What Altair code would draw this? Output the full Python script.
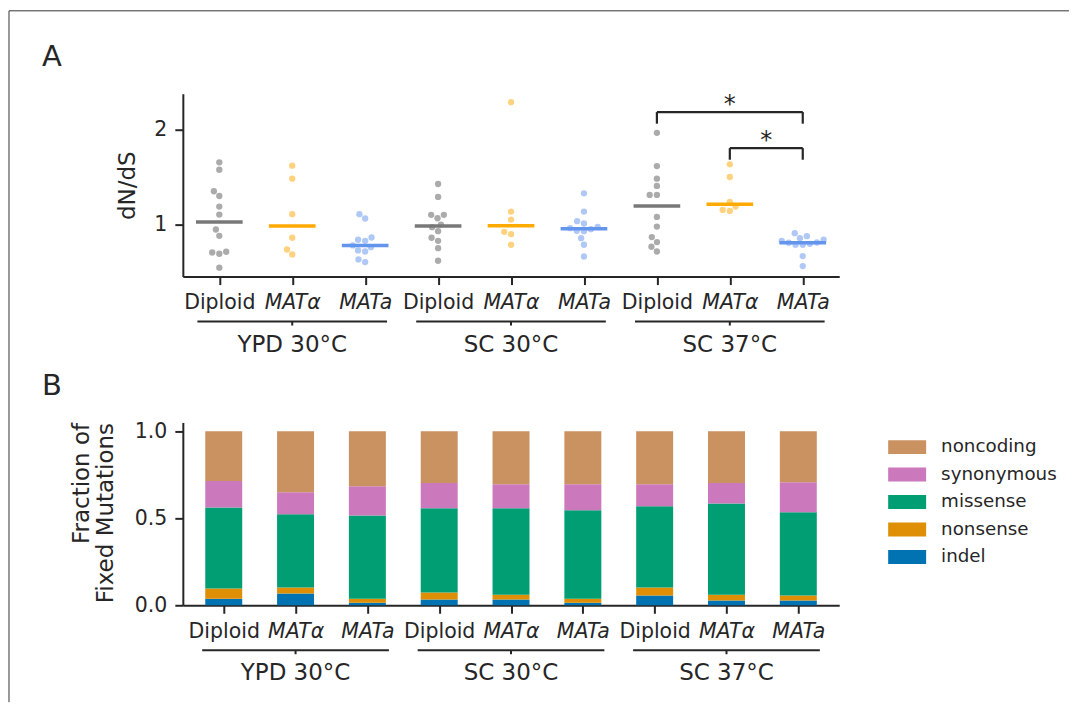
import altair as alt
import pandas as pd

FONT = "DejaVu Sans"
INK = "#262626"

# ---------------- data ----------------
strains = ["Diploid", "MATα", "MATa"]
conditions = ["YPD 30°C", "SC 30°C", "SC 37°C"]

# Panel A: dN/dS for each population, one list per (condition, strain)
dnds_ypd_diploid = [1.655, 1.577, 1.349, 1.299, 1.187, 1.102, 0.944, 0.877, 0.708, 0.700, 0.687, 0.539]
dnds_ypd_alpha = [1.620, 1.482, 1.106, 0.856, 0.732, 0.680]
dnds_ypd_a = [1.106, 1.060, 0.859, 0.835, 0.824, 0.775, 0.757, 0.722, 0.711, 0.627, 0.599]
dnds_sc30_diploid = [1.426, 1.289, 1.099, 1.099, 1.063, 0.996, 0.968, 0.926, 0.856, 0.824, 0.746, 0.613]
dnds_sc30_alpha = [2.292, 1.134, 1.049, 0.919, 0.894, 0.782]
dnds_sc30_a = [1.327, 1.134, 1.032, 1.007, 0.972, 0.958, 0.947, 0.930, 0.926, 0.852, 0.782, 0.658]
dnds_sc37_diploid = [1.968, 1.616, 1.482, 1.405, 1.310, 1.310, 1.077, 0.975, 0.863, 0.810, 0.761, 0.711]
dnds_sc37_alpha = [1.634, 1.500, 1.236, 1.187, 1.151, 1.141]
dnds_sc37_a = [0.905, 0.873, 0.852, 0.835, 0.824, 0.806, 0.803, 0.792, 0.782, 0.782, 0.662, 0.556]

dnds_groups = [
    dnds_ypd_diploid, dnds_ypd_alpha, dnds_ypd_a,
    dnds_sc30_diploid, dnds_sc30_alpha, dnds_sc30_a,
    dnds_sc37_diploid, dnds_sc37_alpha, dnds_sc37_a,
]

strain_point_colors = ["#ABABAB", "#FFD27F", "#B0C8F6"]
strain_median_colors = ["#787878", "#FFAA00", "#6495ED"]

# significance brackets (group index from, group index to, bracket height in dN/dS)
bracket_from = [6, 7]
bracket_to = [8, 8]
bracket_top = [2.188, 1.806]
bracket_text = ["*", "*"]

# Panel B: fraction of fixed mutations per group
mutation_types = ["noncoding", "synonymous", "missense", "nonsense", "indel"]
mutation_colors = ["#CA9161", "#CC78BC", "#029E73", "#DE8F05", "#0173B2"]
frac_indel = [0.038, 0.067, 0.015, 0.033, 0.033, 0.015, 0.056, 0.027, 0.027]
frac_nonsense = [0.058, 0.035, 0.023, 0.040, 0.028, 0.023, 0.046, 0.034, 0.029]
frac_missense = [0.466, 0.420, 0.478, 0.484, 0.496, 0.507, 0.466, 0.524, 0.478]
frac_synonymous = [0.152, 0.127, 0.167, 0.145, 0.138, 0.150, 0.127, 0.117, 0.172]
frac_noncoding = [0.286, 0.351, 0.317, 0.298, 0.305, 0.305, 0.305, 0.298, 0.294]

# ---------------- layout ----------------
W = 657          # plot width (both panels)
H = 183          # panel height
HT = 512         # total height from top of A to bottom of B
B_TOP = HT - H   # top of panel B inside the shared frame
NG = 9
STEP = W / NG
YA = [0.445, 2.382]
YB = [0.0, 1.05]
PPU = H / (YA[1] - YA[0])
DOT = 7.2  # swarm spacing in px


def swarm(vals):
    ys = [v * PPU for v in vals]
    order = sorted(range(len(vals)), key=lambda i: vals[i])
    placed = []
    offs = [0.0] * len(vals)
    for i in order:
        y = ys[i]
        cands = [0.0]
        for px, py in placed:
            dy = abs(py - y)
            if dy < DOT:
                dx = (DOT * DOT - dy * dy) ** 0.5
                cands += [px - dx, px + dx]
        cands.sort(key=lambda c: (round(abs(c), 6), c))
        for c in cands:
            if all((c - px) ** 2 + (y - py) ** 2 >= DOT * DOT - 1e-6 for px, py in placed):
                offs[i] = c
                placed.append((c, y))
                break
    return offs


rows = []
for g, vals in enumerate(dnds_groups):
    offs = swarm(vals)
    for v, o in zip(vals, offs):
        rows.append({"idx": g, "strain": strains[g % 3], "cond": conditions[g // 3],
                     "value": v, "pos": g + o / STEP})
pts = pd.DataFrame(rows)

brk_rows = []
for a, b, t in zip(bracket_from, bracket_to, bracket_top):
    brk_rows.append({"xa": a, "xb": b, "ya": t, "yb": t})
    brk_rows.append({"xa": a, "xb": a, "ya": t, "yb": t - 0.123})
    brk_rows.append({"xa": b, "xb": b, "ya": t, "yb": t - 0.123})
brk = pd.DataFrame(brk_rows)
stars = pd.DataFrame({"xm": [(a + b) / 2 for a, b in zip(bracket_from, bracket_to)],
                      "top": bracket_top, "label": bracket_text})

grp = pd.DataFrame({"cond": conditions, "center": [3 * i + 1 for i in range(3)]})
grp["x1"] = grp["center"] - 1.3
grp["x2"] = grp["center"] + 1.3

frac_lists = {"indel": frac_indel, "nonsense": frac_nonsense, "missense": frac_missense,
              "synonymous": frac_synonymous, "noncoding": frac_noncoding}
bar_rows = []
for k, t in enumerate(["indel", "nonsense", "missense", "synonymous", "noncoding"]):
    for g in range(NG):
        bar_rows.append({"idx": g, "type": t, "frac": frac_lists[t][g], "k": k})
bars_df = pd.DataFrame(bar_rows)
leg_df = pd.DataFrame({"type": mutation_types})
one = pd.DataFrame({"k": [0]})

# ---------------- axes / scales ----------------
tick_labels = [strains[g % 3] for g in range(NG)]
label_expr = "[" + ",".join("'" + s + "'" for s in tick_labels) + "][datum.value]"
xscale = alt.Scale(domain=[-0.5, NG - 0.5], nice=False, zero=False)


def make_xaxis(offset):
    return alt.Axis(values=list(range(NG)), labelExpr=label_expr, labelOverlap=False,
                    labelFlush=False, title=None, grid=False, orient="bottom", offset=offset,
                    labelFontStyle={"condition": {"test": "datum.value % 3 == 0", "value": "normal"},
                                    "value": "italic"})


xaxisA = make_xaxis(-(HT - H))
xaxisB = make_xaxis(0)


def XA(field):
    return alt.X(field, type="quantitative", scale=xscale, axis=xaxisA)


def XB(field):
    return alt.X(field, type="quantitative", scale=xscale, axis=xaxisB)


yscaleA = alt.Scale(domain=YA, range=[H, 0], nice=False, zero=False)
yaxisA = alt.Axis(values=[1, 2], format="d", title="dN/dS", grid=False, titlePadding=14, orient="left")


def YA_(field):
    return alt.Y(field, type="quantitative", scale=yscaleA, axis=yaxisA)


def group_layers(X, base):
    b = alt.Chart(grp)
    line = b.mark_rule(strokeWidth=2, color=INK).encode(
        x=X("x1"), x2="x2:Q", y=alt.value(base + 45))
    tick = b.mark_rule(strokeWidth=2, color=INK).encode(
        x=X("center"), y=alt.value(base + 45), y2=alt.value(base + 49))
    txt = b.mark_text(fontSize=23, baseline="alphabetic", align="center", color=INK).encode(
        x=X("center"), y=alt.value(base + 75), text="cond:N")
    return [line, tick, txt]


# ---------------- panel A ----------------
points = alt.Chart(pts).mark_circle(size=40, opacity=1).encode(
    x=XA("pos"), y=YA_("value"),
    color=alt.Color("strain:N", scale=alt.Scale(domain=strains, range=strain_point_colors), legend=None),
)
medians = alt.Chart(pts).transform_aggregate(
    med="median(value)", groupby=["idx", "strain"]
).transform_calculate(
    m1="datum.idx - 0.32", m2="datum.idx + 0.32"
).mark_rule(strokeWidth=3.5).encode(
    x=XA("m1"), x2="m2:Q", y=YA_("med"),
    color=alt.Color("strain:N", scale=alt.Scale(domain=strains, range=strain_median_colors), legend=None),
)
brackets = alt.Chart(brk).mark_rule(strokeWidth=2.2, color=INK).encode(
    x=XA("xa"), x2="xb:Q", y=YA_("ya"), y2="yb:Q")
star_txt = alt.Chart(stars).mark_text(fontSize=24, baseline="alphabetic", align="center",
                                      color=INK).encode(
    x=XA("xm"), y=YA_("top"), text="label:N")

layerA = alt.layer(points, medians, brackets, star_txt, *group_layers(XA, H)).resolve_scale(
    color="independent")

# ---------------- panel B ----------------
bars = alt.Chart(bars_df).mark_bar(size=37).encode(
    x=XB("idx"),
    y=alt.Y("frac:Q", stack="zero", scale=alt.Scale(domain=YB, range=[HT, B_TOP], nice=False),
            axis=alt.Axis(values=[0, 0.5, 1.0], format=".1f", title=["Fraction of", "Fixed Mutations"],
                          titleAnchor="end", titleLineHeight=23.5, titlePadding=17, grid=False,
                          orient="left")),
    color=alt.Color("type:N", scale=alt.Scale(domain=mutation_types, range=mutation_colors), legend=None),
    order=alt.Order("k:Q", sort="ascending"),
)
leg_y = alt.Y("type:N", scale=alt.Scale(type="point", domain=mutation_types,
                                        range=[B_TOP + 24.7, B_TOP + 134.7], padding=0),
              axis=None)
leg_sym = alt.Chart(leg_df).mark_point(
    shape="M-1,-0.368L1,-0.368L1,0.368L-1,0.368Z", size=1444, filled=True, opacity=1, strokeWidth=0
).encode(
    x=alt.value(725), y=leg_y,
    color=alt.Color("type:N", scale=alt.Scale(domain=mutation_types, range=mutation_colors), legend=None),
)
leg_txt = alt.Chart(leg_df).mark_text(align="left", baseline="middle", fontSize=18.3, color=INK).encode(
    x=alt.value(759), y=leg_y, text="type:N")
legend_layer = alt.layer(leg_sym, leg_txt)

layerB = alt.layer(bars, *group_layers(XB, HT), legend_layer).resolve_scale(y="independent")

# ---------------- panel letters and figure frame ----------------
lab_a = alt.Chart(one).mark_text(text="A", fontSize=29, align="left", baseline="alphabetic",
                                 color=INK).encode(x=alt.value(-141), y=alt.value(-27.5))
lab_b = alt.Chart(one).mark_text(text="B", fontSize=29, align="left", baseline="alphabetic",
                                 color=INK).encode(x=alt.value(-141), y=alt.value(B_TOP - 27))
frame_top = alt.Chart(one).mark_rule(strokeWidth=1, color="#333333").encode(
    x=alt.value(-174), x2=alt.value(887), y=alt.value(-83))
frame_left = alt.Chart(one).mark_rule(strokeWidth=1, color="#333333").encode(
    x=alt.value(-174), y=alt.value(-83), y2=alt.value(609))

chart = alt.layer(layerA, layerB, lab_a, lab_b, frame_top, frame_left).resolve_scale(
    x="independent", y="independent", color="independent"
).properties(
    width=W, height=HT,
    padding={"left": 0, "top": 1.5, "right": 0, "bottom": 0},
).configure_view(stroke=None).configure_axis(
    labelFont=FONT, titleFont=FONT, labelColor=INK, titleColor=INK,
    domainColor=INK, tickColor=INK, domainWidth=2, tickWidth=2, tickSize=8,
    labelPadding=8, labelFontSize=20.5, titleFontSize=23, titleFontWeight="normal",
).configure_text(font=FONT, color=INK)

chart.save("out.html", embed_options={"renderer": "svg", "actions": False})
